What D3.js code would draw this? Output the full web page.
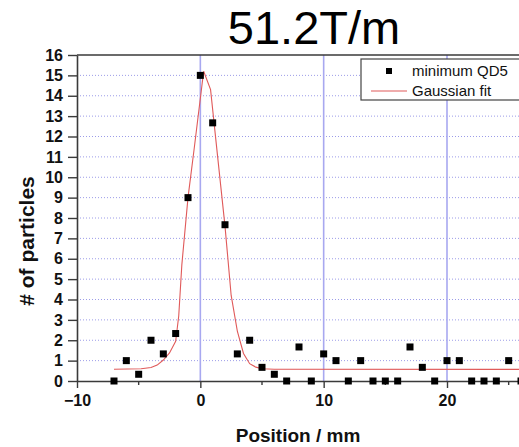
<!DOCTYPE html>
<meta charset="utf-8">
<style>
    body { margin: 0; background: #fff; }
    text { font-family: "Liberation Sans", Arial, Helvetica, sans-serif; }
    .tick-label { font-size: 16px; font-weight: bold; fill: #111; }
    .axis-title { font-size: 19px; font-weight: bold; fill: #111; }
    .legend-text { font-size: 15px; fill: #111; }
</style>
<svg id="chart" width="519" height="447"></svg>
<script src="https://d3js.org/d3.v7.min.js"></script>
<script>
    // measured particle counts per position (mm)
    var positions = [-7, -6, -5, -4, -3, -2, -1, 0, 1, 2, 3, 4, 5, 6, 7, 8, 9, 10, 11, 12,
        13, 14, 15, 16, 17, 18, 19, 20, 21, 22, 23, 24, 25, 26];
    var counts = [0, 1, 0.33, 2, 1.33, 2.33, 9, 15, 12.67, 7.67, 1.33, 2, 0.67, 0.33, 0, 1.67, 0, 1.33, 1, 0,
        1, 0, 0, 0, 1.67, 0.67, 0, 1, 1, 0, 0, 0, 1, 0];

    // gaussian fit curve
    var fitX = [-7, -4.8, -4, -3.5, -3, -2.5, -2, -1.75, -1.5, -1, -0.5, 0.27, 0.83, 1.43, 2, 2.5, 3, 3.5, 4, 4.5, 5, 6, 27];
    var fitY = [0.58, 0.6, 0.66, 0.78, 1.03, 1.38, 1.95, 3.2, 5.7, 9.0, 11.4, 15.2, 14.3, 10.85, 7.6, 4.2, 2.45, 1.35, 0.85, 0.68, 0.6, 0.58, 0.57];

    var yTicks = d3.range(0, 17);
    var xTicks = [-10, 0, 10, 20];
    var xMinorTicks = [-5, 5, 15, 25];
    var gridX = [0, 10, 20];
    var legendLabels = ["minimum QD5", "Gaussian fit"];
    var title = "51.2T/m";

    var svg = d3.select("#chart");

    var x = d3.scaleLinear().domain([-10, 26]).range([77, 521]);
    var y = d3.scaleLinear().domain([0, 16]).range([381, 55]);

    var axisColor = "#3a3a3a";

    // horizontal dotted grid
    svg.append("g")
        .selectAll("line")
        .data(yTicks.filter(function (d) { return d > 0 && d < 16; }))
        .enter().append("line")
        .attr("x1", x(-10)).attr("x2", 519)
        .attr("y1", function (d) { return y(d); })
        .attr("y2", function (d) { return y(d); })
        .attr("stroke", "#9c9ce8")
        .attr("stroke-width", 1)
        .attr("stroke-dasharray", "1,2");

    // vertical grid lines
    svg.append("g")
        .selectAll("line")
        .data(gridX)
        .enter().append("line")
        .attr("x1", function (d) { return x(d); })
        .attr("x2", function (d) { return x(d); })
        .attr("y1", y(16)).attr("y2", y(0))
        .attr("stroke", "#a8a8f0")
        .attr("stroke-width", 1.6);

    // fit line
    var line = d3.line()
        .x(function (d, i) { return x(fitX[i]); })
        .y(function (d) { return y(d); });

    svg.append("path")
        .datum(fitY)
        .attr("fill", "none")
        .attr("stroke", "#e05a5a")
        .attr("stroke-width", 1.1)
        .attr("d", line);

    // axes
    var xAxis = svg.append("g")
        .attr("transform", "translate(0," + y(0) + ")")
        .call(d3.axisBottom(x).tickValues(xTicks).tickSize(7).tickPadding(7).tickSizeOuter(0));
    xAxis.select(".domain").attr("stroke", axisColor).attr("stroke-width", 1.6);
    xAxis.selectAll(".tick line").attr("stroke", axisColor).attr("stroke-width", 1.4);
    xAxis.selectAll(".tick text").attr("class", "tick-label").attr("font-family", null).attr("font-size", null);

    xAxis.selectAll(".minor")
        .data(xMinorTicks)
        .enter().append("line")
        .attr("x1", function (d) { return x(d); })
        .attr("x2", function (d) { return x(d); })
        .attr("y1", 0).attr("y2", 4)
        .attr("stroke", axisColor)
        .attr("stroke-width", 1.4);

    var yAxis = svg.append("g")
        .attr("transform", "translate(" + x(-10) + ",0)")
        .call(d3.axisLeft(y).tickValues(yTicks).tickSize(9).tickPadding(5).tickSizeOuter(0));
    yAxis.select(".domain").attr("stroke", axisColor).attr("stroke-width", 1.6);
    yAxis.selectAll(".tick line").attr("stroke", axisColor).attr("stroke-width", 1.4);
    yAxis.selectAll(".tick text").attr("class", "tick-label").attr("font-family", null).attr("font-size", null);

    // top frame
    svg.append("line")
        .attr("x1", x(-10)).attr("x2", 519)
        .attr("y1", y(16)).attr("y2", y(16))
        .attr("stroke", axisColor)
        .attr("stroke-width", 1.6);

    // data points
    svg.append("g")
        .selectAll("rect")
        .data(counts)
        .enter().append("rect")
        .attr("x", function (d, i) { return x(positions[i]) - 3.5; })
        .attr("y", function (d) { return y(d) - 3.5; })
        .attr("width", 7)
        .attr("height", 7)
        .attr("fill", "#000");

    // legend
    var legend = svg.append("g").attr("transform", "translate(361,59)");
    legend.append("rect")
        .attr("width", 170).attr("height", 41)
        .attr("fill", "#fff")
        .attr("stroke", "#444")
        .attr("stroke-width", 1.2);
    legend.append("rect")
        .attr("x", 25).attr("y", 9)
        .attr("width", 6).attr("height", 6)
        .attr("fill", "#000");
    legend.append("line")
        .attr("x1", 10).attr("x2", 46)
        .attr("y1", 32).attr("y2", 32)
        .attr("stroke", "#e05a5a")
        .attr("stroke-width", 1.1);
    legend.selectAll("text.legend-text")
        .data(legendLabels)
        .enter().append("text")
        .attr("class", "legend-text")
        .attr("x", 51)
        .attr("y", function (d, i) { return 17 + i * 20; })
        .text(function (d) { return d; });

    // titles
    svg.append("text")
        .attr("x", 314).attr("y", 44)
        .attr("text-anchor", "middle")
        .attr("font-size", 47)
        .attr("fill", "#000")
        .text(title);

    svg.append("text")
        .attr("class", "axis-title")
        .attr("x", 298).attr("y", 442)
        .attr("text-anchor", "middle")
        .text("Position / mm");

    svg.append("text")
        .attr("class", "axis-title")
        .attr("font-size", 21)
        .style("font-size", "21px")
        .attr("transform", "translate(34,241) rotate(-90)")
        .attr("text-anchor", "middle")
        .text("# of particles");
</script>
